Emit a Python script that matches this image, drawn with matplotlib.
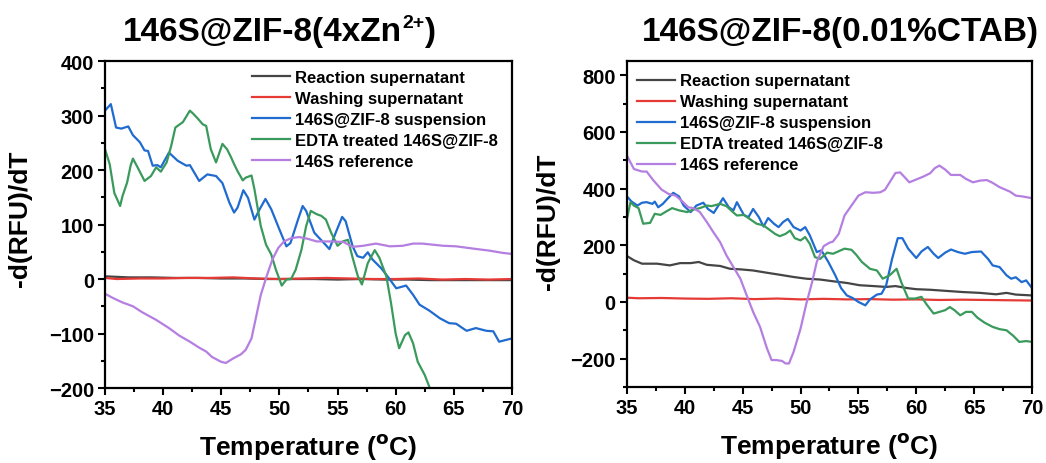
import matplotlib
matplotlib.use("Agg")
import matplotlib.pyplot as plt
from matplotlib.ticker import MultipleLocator

# ---- left panel: 146S@ZIF-8(4xZn2+) ----
a_rs_t = [35, 37, 39, 41, 43, 45, 47, 49, 51, 53, 55, 57, 59, 61, 63, 65, 67, 69, 70]
a_rs_v = [5, 3, 3, 2, 2, 1, 1, 0, 0, 0, -1, 0, -1, -1, -2, -2, -2, -2, -2]
a_ws_t = [35, 36, 38, 40, 42, 44, 46, 48, 50, 52, 54, 56, 58, 60, 62, 64, 66, 68, 70]
a_ws_v = [2, 0, 1, 1, 2, 2, 3, 1, 0, 1, 2, 1, 0, 0, 1, -1, 0, -1, 0]

a_bl_t = [35, 35.5, 35.95, 36.4, 37, 37.4, 38, 38.4, 38.7, 39.1, 39.5, 39.8, 40.5, 41.25,
          42, 42.3, 43.1, 43.8, 44.55, 45.1, 45.7, 46.1, 46.4, 46.9, 47.3, 47.85, 48.3,
          48.8, 49.3, 50, 50.6, 50.95, 51.6, 52, 52.3, 53, 53.7, 54.3, 54.9, 55.4, 55.7,
          56.3, 56.7, 57.2, 57.6, 58, 58.75, 59.3, 60.05, 60.9, 61.5, 62.05, 62.9, 63.8,
          64.6, 65.2, 66.1, 66.9, 67.8, 68.4, 68.9, 70]
a_bl_v = [309, 321, 278, 276, 280, 264, 251, 236, 235, 208, 209, 205, 232, 217,
          208, 209, 180, 192, 189, 176, 140, 122, 131, 163, 149, 109, 128,
          147, 128, 91, 60, 66, 109, 134, 125, 85, 69, 55, 88, 114, 106,
          60, 42, 39, 49, 36, 20, 5, -17, -12, -29, -47, -58, -72,
          -81, -82, -95, -90, -95, -96, -115, -109]

a_gr_t = [35, 35.4, 35.8, 36.3, 36.5, 36.9, 37.2, 37.4, 37.8, 38.4, 38.95, 39.4, 39.8,
          40.3, 40.7, 41.05, 41.7, 42.3, 42.6, 43, 43.4, 43.7, 44.1, 44.55, 45.1, 45.5,
          45.85, 46.1, 46.4, 46.85, 47.1, 47.6, 47.85, 48.1, 48.4, 48.85, 49.3, 49.7,
          50.2, 50.6, 51, 51.4, 51.9, 52.3, 52.7, 53.2, 53.6, 54, 54.45, 55, 55.45,
          55.9, 56.3, 56.75, 57.1, 57.6, 58.2, 58.6, 59.2, 59.6, 60, 60.3, 60.8, 61.1,
          61.5, 61.9, 62.5, 62.9, 63.4, 64]
a_gr_v = [238, 211, 158, 134, 152, 177, 208, 221, 205, 180, 189, 205, 197,
          214, 245, 278, 288, 309, 303, 294, 284, 281, 238, 214, 248, 238,
          223, 211, 198, 181, 186, 190, 165, 134, 97, 63, 45, 17,
          -12, -1, 0, 17, 54, 97, 125, 119, 116, 109, 85, 61, 69,
          72, 39, 5, -10, 29, 53, 39, 5, -44, -100, -127, -103, -98,
          -118, -152, -176, -198, -220, -245]

a_pu_t = [35, 35.7, 36.5, 37.4, 38.2, 39.4, 40.5, 41.4, 42.3, 43.1, 43.7, 44.2, 45, 45.4,
          46, 46.7, 47.1, 47.6, 48, 48.4, 48.9, 49.4, 49.9, 50.4, 51, 51.7, 52.4, 53.2,
          54.3, 55.5, 56.3, 57.2, 58.3, 59.5, 60.6, 61.5, 62.3, 64.1, 65.2, 66.6, 68.1,
          69.2, 70]
a_pu_v = [-27, -35, -43, -50, -61, -75, -90, -104, -115, -126, -133, -143, -152, -154,
          -146, -138, -130, -109, -69, -29, 5, 36, 57, 69, 75, 77, 74, 69,
          69, 68, 59, 61, 65, 60, 61, 65, 65, 61, 60, 56, 52,
          48, 46]

# ---- right panel: 146S@ZIF-8(0.01%CTAB) ----
b_rs_t = [35, 35.6, 36.3, 37.6, 38.7, 39.6, 40.5, 41.2, 41.9, 43.05, 43.9, 44.8, 45.9,
          47.1, 48.2, 49.4, 50.5, 51.7, 52.8, 54, 55.1, 56.3, 57.4, 58.2, 59.2, 60,
          61.2, 62.6, 64, 65.5, 66.9, 67.8, 68.6, 70]
b_rs_v = [162, 147, 135, 135, 129, 137, 137, 141, 131, 127, 117, 115, 111,
          103, 96, 88, 82, 79, 73, 67, 59, 56, 53, 56, 49, 45,
          43, 39, 35, 32, 27, 32, 26, 23]
b_ws_t = [35, 36, 38, 40, 42, 44, 46, 48, 50, 52, 54, 56, 58, 60, 62, 64, 66, 68, 70]
b_ws_v = [15, 13, 14, 12, 11, 13, 10, 12, 9, 11, 9, 10, 8, 9, 7, 8, 7, 6, 5]

b_bl_t = [35, 35.4, 35.9, 36.3, 36.7, 37.2, 37.4, 37.7, 38.1, 38.5, 39, 39.5, 39.9, 40.5,
          41, 41.6, 42, 42.5, 42.9, 43.3, 43.8, 44.2, 44.5, 45.1, 45.5, 45.9, 46.4, 46.8,
          47.2, 47.7, 48.1, 48.5, 48.9, 49.4, 50, 50.4, 50.8, 51.4, 51.8, 52.4, 53, 53.5,
          54, 54.5, 55, 55.6, 56, 56.6, 57, 57.4, 57.9, 58.4, 58.8, 59.3, 60, 60.45, 61,
          61.5, 61.9, 62.5, 63, 63.6, 64.2, 64.8, 65.6, 66.2, 66.6, 67.2, 67.8, 68.2,
          68.6, 69.1, 69.5, 70]
b_bl_v = [372, 354, 340, 350, 352, 346, 354, 334, 346, 364, 385, 372, 340, 317,
          340, 350, 328, 314, 340, 366, 334, 323, 352, 307, 299, 328, 299, 266,
          296, 276, 264, 282, 293, 264, 252, 264, 235, 176, 182, 141, 94, 49,
          23, 14, 0, -12, 9, 26, 29, 59, 150, 225, 225, 188, 155, 178, 194,
          170, 155, 174, 185, 176, 170, 176, 178, 152, 129, 123, 94, 82,
          87, 70, 76, 49]

b_gr_t = [35, 35.3, 35.6, 36, 36.4, 37, 37.4, 37.9, 38.3, 38.9, 39.5, 40.2, 40.75, 41.3,
          41.9, 42.3, 43.05, 43.6, 44.1, 44.5, 45.1, 45.6, 46.2, 46.8, 47.2, 47.8, 48.2,
          48.7, 49.1, 49.5, 50, 50.4, 50.8, 51.25, 51.7, 52.3, 52.8, 53.3, 53.8, 54.4,
          54.8, 55.3, 56, 56.6, 57.1, 57.7, 58.3, 58.7, 59.3, 59.9, 60.45, 60.9, 61.5,
          62, 62.5, 62.9, 63.3, 63.8, 64.3, 64.8, 65.3, 65.9, 66.6, 67.2, 67.8, 68.4,
          68.9, 69.5, 70]
b_gr_v = [293, 352, 340, 331, 276, 279, 311, 307, 317, 331, 323, 317, 326, 331,
          340, 338, 346, 338, 319, 305, 307, 293, 276, 270, 258, 240, 232,
          240, 252, 225, 217, 229, 205, 158, 152, 174, 170, 179, 188, 184,
          167, 141, 117, 111, 82, 94, 117, 70, 12, 12, 18, -9, -41,
          -35, -29, -18, -29, -47, -35, -35, -56, -73, -88, -96, -100, -120,
          -141, -138, -141]

b_pu_t = [35, 35.6, 36.3, 36.7, 37.3, 38, 38.6, 39.2, 39.7, 40.3, 40.75, 41.3, 41.9, 42.5,
          43.05, 43.6, 44.2, 44.8, 45.35, 45.9, 46.5, 47.1, 47.5, 47.9, 48.4, 48.7, 49,
          49.4, 50, 50.5, 51, 51.4, 52, 52.5, 52.8, 53.3, 53.8, 54.4, 55, 55.6, 56.3,
          56.9, 57.3, 57.7, 58.2, 58.6, 59, 59.4, 60, 60.6, 61.2, 61.6, 62, 62.5, 63,
          63.8, 64.3, 64.9, 65.5, 66.1, 66.6, 67.2, 68.1, 68.6, 69.2, 70]
b_pu_v = [516, 469, 460, 460, 428, 396, 381, 375, 358, 334, 331, 317, 282, 244,
          211, 164, 123, 82, 23, -35, -88, -164, -205, -205, -208, -217, -217,
          -176, -94, -6, 70, 141, 197, 209, 213, 240, 305, 340, 375, 387, 385,
          387, 396, 422, 455, 457, 440, 422, 432, 442, 454, 472, 481, 467, 448,
          448, 434, 422, 428, 430, 420, 405, 389, 375, 372, 366]

labels = ["Reaction supernatant", "Washing supernatant", "146S@ZIF-8 suspension",
          "EDTA treated 146S@ZIF-8", "146S reference"]
colors = ["#454545", "#e53a35", "#1f6bd0", "#3a9a5c", "#b47fe0"]

plt.rcParams["font.family"] = ["Liberation Sans", "DejaVu Sans"]
plt.rcParams["font.weight"] = "bold"
plt.rcParams["mathtext.default"] = "bf"

fig = plt.figure(figsize=(10.46, 4.64), dpi=100)
ax1 = fig.add_axes([0.1004, 0.1616, 0.389, 0.7047])
ax2 = fig.add_axes([0.5994, 0.1638, 0.3872, 0.7026])

panels = [
    (ax1, [(a_rs_t, a_rs_v), (a_ws_t, a_ws_v), (a_bl_t, a_bl_v), (a_gr_t, a_gr_v), (a_pu_t, a_pu_v)],
     (-200, 400), 100, 50, (0.361, 0.972), (-0.179, 0.52)),
    (ax2, [(b_rs_t, b_rs_v), (b_ws_t, b_ws_v), (b_bl_t, b_bl_v), (b_gr_t, b_gr_v), (b_pu_t, b_pu_v)],
     (-300, 850), 200, 100, (0.025, 0.962), (-0.165, 0.509)),
]

for ax, series, ylim, ymaj, ymin, leg_pos, ylab_pos in panels:
    handles = []
    for (t, v), c, lab in zip(series, colors, labels):
        h, = ax.plot(t, v, color=c, lw=1.6, label=lab)
        handles.append(h)
    ax.set_xlim(35, 70)
    ax.set_ylim(*ylim)
    ax.xaxis.set_major_locator(MultipleLocator(5))
    ax.xaxis.set_minor_locator(MultipleLocator(2.5))
    ax.yaxis.set_major_locator(MultipleLocator(ymaj))
    ax.yaxis.set_minor_locator(MultipleLocator(ymin))
    ax.tick_params(which="both", direction="out", top=False, right=False, width=1.5)
    ax.tick_params(which="major", length=5, labelsize=14.5, pad=3)
    ax.tick_params(which="minor", length=3)
    for sp in ax.spines.values():
        sp.set_linewidth(1.6)
    ax.set_xlabel("Temperature ($^{o}$C)", fontsize=19, fontweight="bold", labelpad=9)
    ax.set_ylabel("-d(RFU)/dT", fontsize=19, fontweight="bold")
    ax.yaxis.set_label_coords(*ylab_pos)
    ax.legend(handles=handles, loc="upper left", bbox_to_anchor=leg_pos, frameon=False,
              prop={"size": 12, "weight": "bold"}, handlelength=2.3, handletextpad=0.3,
              labelspacing=0.36, borderpad=0, borderaxespad=0)

# left title, built from pieces so the charge sits as a small superscript
t_main = fig.text(0.1176, 0.929, "146S@ZIF-8(4xZn", fontsize=24, fontweight="bold",
                  ha="left", va="center")
sup = fig.add_artist(plt.Annotation("2+", xy=(1.0, 0.52), xycoords=t_main, fontsize=14,
                                    fontweight="bold", ha="left", va="bottom"))
fig.add_artist(plt.Annotation(")", xy=(1.0, 0.0), xycoords=(sup, t_main), fontsize=24,
                              fontweight="bold", ha="left", va="bottom"))

fig.text(0.803, 0.929, "146S@ZIF-8(0.01%CTAB)", fontsize=24, fontweight="bold",
         ha="center", va="center")

fig.savefig("out.png", dpi=100)
